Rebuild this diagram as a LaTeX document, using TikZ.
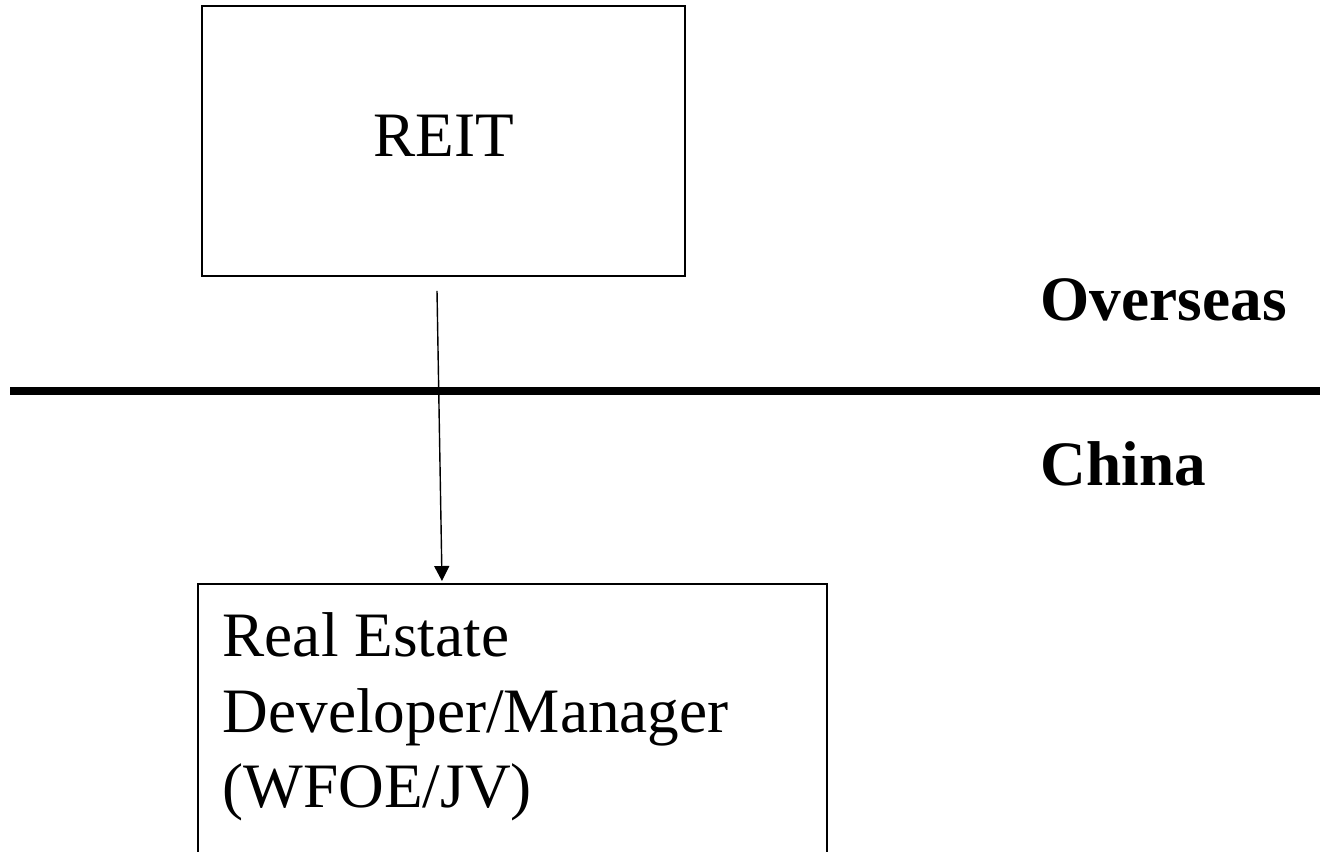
\documentclass[tikz,border=0pt]{standalone}
\usepackage{fontspec}
\setmainfont{Liberation Serif}
\usetikzlibrary{arrows.meta}
\usetikzlibrary{calc}
\usetikzlibrary{positioning}

\begin{document}
\begin{tikzpicture}[
    box/.style={draw, line width=0.5pt, inner sep=0pt},
    big/.style={font=\fontsize{18}{21.5}\selectfont},
    region/.style={font=\fontsize{18}{20.2}\selectfont\bfseries, inner sep=0pt, anchor=base west}
  ]
    \useasboundingbox (0,0) rectangle (13.2,-8.51);

    \node[box, big, minimum width=4.83cm, minimum height=2.70cm, text depth=0.1cm] (reit) at (4.435,-1.41) {REIT};
    \node[box, minimum width=6.29cm, minimum height=3.0cm, anchor=north west] (dev) at (1.97,-5.83) {};
    \node[big, align=left, inner sep=0pt, below right=0.29cm and 0.25cm of dev.north west] (devtext) {Real Estate\\Developer/Manager\\(WFOE/JV)};

    \draw[line width=0.08cm] (0.10,-3.91) -- (13.3,-3.91);
    \node[region] (overseas) at (10.40,-3.20) {Overseas};
    \node[region] (china) at (10.40,-4.85) {China};

    \draw[line width=0.4pt, -{Triangle[width=0.15cm, length=0.15cm]}] ([xshift=-0.065cm, yshift=-0.14cm]reit.south) -- ([xshift=2.45cm, yshift=0.02cm]dev.north west);
  \end{tikzpicture}
\end{document}
